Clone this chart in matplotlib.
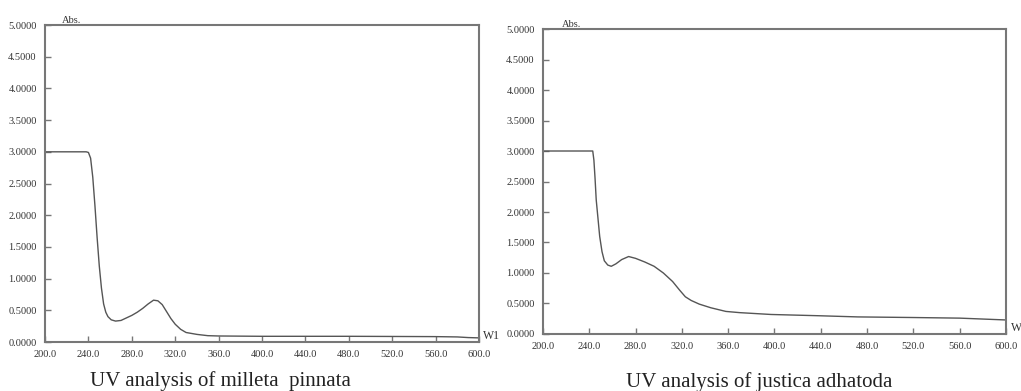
import numpy as np
import matplotlib; matplotlib.use("Agg")
import matplotlib.pyplot as plt
from matplotlib.ticker import FormatStrFormatter
plt.rcParams.update({"font.family": "Liberation Serif", "font.size": 7})

# milleta pinnata spectrum (wavelength nm, absorbance)
wl_mp = [200, 238, 240, 242, 244, 246, 248, 250, 252, 254, 256, 258, 261, 265, 270, 275,
         280, 285, 290, 295, 300, 304, 308, 312, 316, 320, 325, 330, 340, 350, 360, 400,
         480, 560, 580, 590, 600]
abs_mp = [3.0, 3.0, 2.99, 2.9, 2.6, 2.15, 1.65, 1.2, 0.85, 0.6, 0.47, 0.4, 0.35, 0.33, 0.34, 0.38,
          0.42, 0.47, 0.53, 0.6, 0.66, 0.65, 0.59, 0.48, 0.37, 0.28, 0.2, 0.15, 0.12, 0.10, 0.095, 0.09,
          0.09, 0.085, 0.08, 0.07, 0.065]

# justica adhatoda spectrum
wl_ja = [200, 243, 244, 245, 246, 247.5, 249, 251, 253, 256, 259, 263, 268, 274, 280, 288,
         296, 304, 312, 318, 323, 328, 335, 345, 358, 370, 397, 437, 472, 520, 560, 600]
abs_ja = [3.0, 3.0, 2.85, 2.55, 2.2, 1.9, 1.6, 1.35, 1.2, 1.13, 1.11, 1.15, 1.22, 1.27, 1.24, 1.18,
          1.11, 1.0, 0.86, 0.72, 0.61, 0.55, 0.49, 0.43, 0.37, 0.35, 0.32, 0.30, 0.28, 0.27, 0.26, 0.23]

xticks = np.arange(200, 601, 40)
yticks = np.arange(0, 5.01, 0.5)
AX = "#777777"; LN = "#555555"

fig = plt.figure(figsize=(10.21, 3.91), dpi=100)
ax1 = fig.add_axes([0.0441, 0.1253, 0.4251, 0.8107])
ax2 = fig.add_axes([0.5318, 0.1458, 0.4535, 0.780])

def style(ax, wl, ab, wlab):
    ax.plot(wl, ab, color=LN, lw=1.0)
    ax.set_xlim(200, 600); ax.set_ylim(0, 5)
    ax.set_xticks(xticks); ax.set_yticks(yticks)
    ax.xaxis.set_major_formatter(FormatStrFormatter("%.1f"))
    ax.yaxis.set_major_formatter(FormatStrFormatter("%.4f"))
    ax.tick_params(direction="in", length=4, width=1, color=AX, labelsize=7.5, labelcolor="#333")
    ax.tick_params(axis="x", pad=6)
    ax.tick_params(axis="y", pad=6)
    for s in ax.spines.values():
        s.set_color(AX); s.set_linewidth(1.5)
    ax.text(0.04, 1.0, "Abs.", transform=ax.transAxes, fontsize=7.5, color="#333", va="bottom")
    ax.text(1.01, 0.02, wlab, transform=ax.transAxes, fontsize=8.5, color="#333", va="center")

style(ax1, wl_mp, abs_mp, "W1")
style(ax2, wl_ja, abs_ja, "W")

fig.text(0.2155, 0.026, "UV analysis of milleta  pinnata", ha="center", va="center", fontsize=15, color="#222")
fig.text(0.744, 0.022, "UV analysis of justica adhatoda", ha="center", va="center", fontsize=15, color="#222")

fig.savefig("out.png", dpi=100)
plt.close(fig)
